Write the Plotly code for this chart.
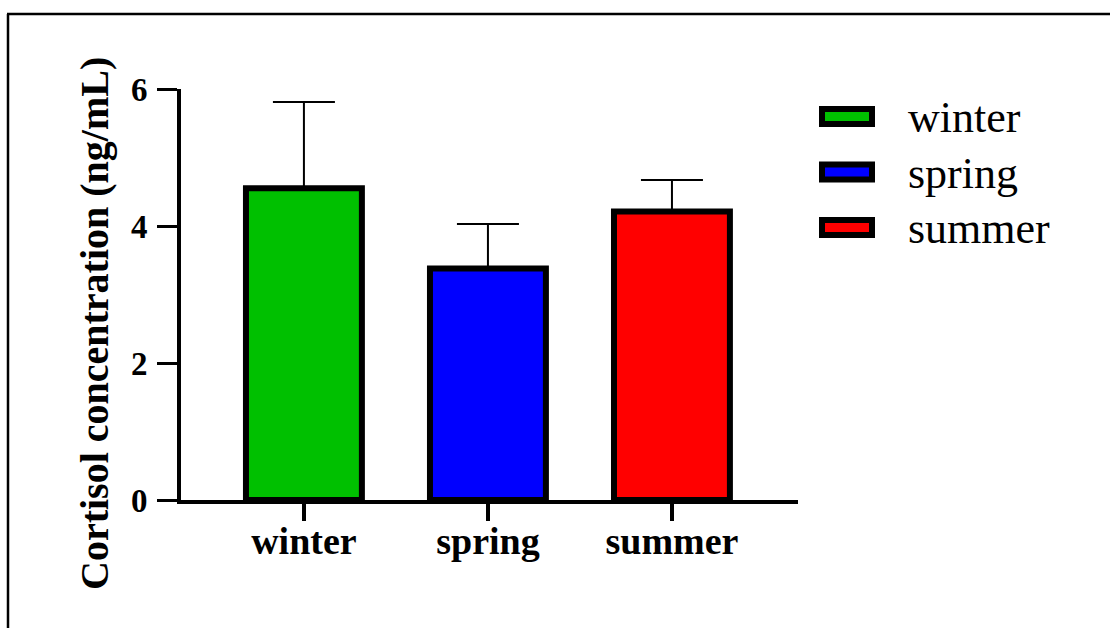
import plotly.graph_objects as go

# Cortisol concentration by season (mean with upper error bar)
seasons = ["winter", "spring", "summer"]
means = [4.55, 3.38, 4.21]
errors = [1.26, 0.65, 0.46]
bar_colors = ["#00C000", "#0000FF", "#FF0000"]
y_tick_values = [0, 2, 4, 6]
y_title = "Cortisol concentration (ng/mL)"

FONT = "Liberation Serif"
W, H = 1110, 628
L, R, T, B = 181, 312, 89, 128
PW = W - L - R
PH = H - T - B


def px_x(px):
    return (px - L) / PW


def px_y(py):
    return (H - B - py) / PH


fig = go.Figure()
fig.add_trace(go.Bar(
    x=seasons,
    y=means,
    width=0.63,
    marker=dict(color=bar_colors, line=dict(color="black", width=6)),
    error_y=dict(type="data", symmetric=False, array=errors,
                 arrayminus=[0] * len(errors), color="black",
                 thickness=2, width=31),
    showlegend=False,
))

shapes = []
annotations = []

# outer frame (left and top edges)
shapes.append(dict(type="line", xref="paper", yref="paper",
                   x0=px_x(8), x1=px_x(8), y0=px_y(14), y1=px_y(640),
                   line=dict(color="black", width=2.5)))
shapes.append(dict(type="line", xref="paper", yref="paper",
                   x0=px_x(7), x1=px_x(1120), y0=px_y(14), y1=px_y(14),
                   line=dict(color="black", width=2.5)))

# legend: outlined swatches with labels
for i, (name, col) in enumerate(zip(seasons, bar_colors)):
    cy = 116.5 + 55.5 * i
    shapes.append(dict(type="rect", xref="paper", yref="paper",
                       x0=px_x(822), x1=px_x(872),
                       y0=px_y(cy - 7.5), y1=px_y(cy + 7.5),
                       fillcolor=col, line=dict(color="black", width=6)))
    annotations.append(dict(xref="paper", yref="paper", x=px_x(906), y=px_y(cy + 1),
                            xanchor="left", yanchor="middle", showarrow=False,
                            text=name, font=dict(family=FONT, size=44, color="black")))

# rotated y-axis title
annotations.append(dict(xref="paper", yref="paper", x=px_x(94), y=px_y(324),
                        xanchor="center", yanchor="middle", showarrow=False,
                        textangle=-90, text=y_title,
                        font=dict(family=FONT, size=40, color="black", weight="bold")))

fig.update_layout(
    width=W, height=H,
    margin=dict(l=L, r=R, t=T, b=B, autoexpand=False),
    paper_bgcolor="white", plot_bgcolor="white",
    font=dict(family=FONT, color="black"),
    shapes=shapes,
    annotations=annotations,
    xaxis=dict(range=[-0.668, 2.685], showline=True, linewidth=4, linecolor="black",
               ticks="outside", ticklen=17, tickwidth=4, tickcolor="black",
               ticklabelstandoff=-13,
               tickfont=dict(family=FONT, size=38, color="black", weight="bold"),
               showgrid=False, zeroline=False, fixedrange=True),
    yaxis=dict(range=[0, 6], tickvals=y_tick_values, showline=True, linewidth=4,
               linecolor="black", ticks="outside", ticklen=20, tickwidth=3,
               tickcolor="black", ticklabelstandoff=3,
               tickfont=dict(family=FONT, size=33, color="black", weight="bold"),
               showgrid=False, zeroline=False, fixedrange=True),
)

fig.write_html("out.html", config={"displayModeBar": False})
